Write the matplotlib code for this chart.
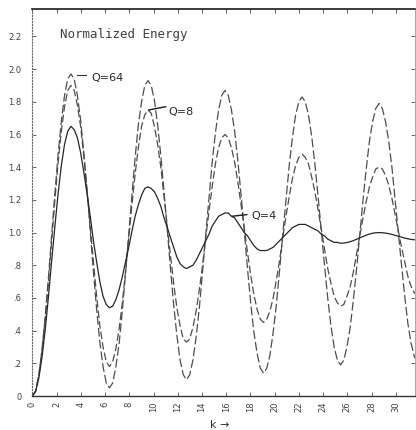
import numpy as np
import matplotlib
matplotlib.use("Agg")
import matplotlib.pyplot as plt

# -----------------------------
# Data
# -----------------------------
K_STEP = 0.265  # sample spacing along k (24 samples per oscillation)

q64 = [0.00, 0.03, 0.13, 0.29, 0.49, 0.73, 0.99, 1.24, 1.48, 1.68, 1.84, 1.94, 1.97,
       1.94, 1.84, 1.69, 1.49, 1.26, 1.01, 0.76, 0.53, 0.33, 0.18, 0.08, 0.05,
       0.08, 0.18, 0.32, 0.52, 0.75, 0.99, 1.23, 1.46, 1.66, 1.80, 1.90, 1.93,
       1.90, 1.81, 1.66, 1.47, 1.25, 1.02, 0.78, 0.56, 0.37, 0.22, 0.13, 0.10,
       0.13, 0.22, 0.36, 0.54, 0.76, 0.99, 1.21, 1.43, 1.61, 1.75, 1.84, 1.87,
       1.84, 1.75, 1.62, 1.44, 1.23, 1.01, 0.78, 0.57, 0.39, 0.26, 0.17, 0.14,
       0.17, 0.25, 0.39, 0.56, 0.77, 0.99, 1.20, 1.41, 1.58, 1.72, 1.80, 1.83,
       1.80, 1.72, 1.59, 1.42, 1.22, 1.01, 0.80, 0.60, 0.43, 0.30, 0.22, 0.19,
       0.22, 0.30, 0.42, 0.59, 0.78, 0.99, 1.20, 1.39, 1.56, 1.68, 1.76, 1.79,
       1.76, 1.68, 1.56, 1.40, 1.20, 1.00, 0.80, 0.61, 0.44, 0.32, 0.24, 0.21]

q8 = [0.00, 0.03, 0.13, 0.28, 0.48, 0.70, 0.95, 1.20, 1.43, 1.62, 1.77, 1.87, 1.90,
      1.87, 1.78, 1.65, 1.47, 1.26, 1.04, 0.82, 0.61, 0.43, 0.30, 0.21, 0.18,
      0.21, 0.29, 0.41, 0.57, 0.76, 0.97, 1.17, 1.36, 1.52, 1.65, 1.72, 1.75,
      1.73, 1.65, 1.54, 1.40, 1.22, 1.04, 0.86, 0.69, 0.54, 0.43, 0.35, 0.33,
      0.35, 0.42, 0.52, 0.65, 0.80, 0.97, 1.13, 1.28, 1.42, 1.52, 1.58, 1.60,
      1.58, 1.52, 1.43, 1.31, 1.17, 1.03, 0.88, 0.74, 0.62, 0.53, 0.47, 0.45,
      0.47, 0.52, 0.60, 0.71, 0.83, 0.97, 1.10, 1.22, 1.33, 1.41, 1.46, 1.48,
      1.46, 1.42, 1.34, 1.25, 1.14, 1.02, 0.90, 0.78, 0.69, 0.61, 0.57, 0.55,
      0.56, 0.61, 0.67, 0.76, 0.87, 0.98, 1.09, 1.19, 1.28, 1.34, 1.39, 1.40,
      1.39, 1.35, 1.29, 1.21, 1.11, 1.01, 0.91, 0.82, 0.73, 0.67, 0.63, 0.62]

q4 = [0.00, 0.03, 0.11, 0.24, 0.41, 0.61, 0.83, 1.04, 1.24, 1.41, 1.54, 1.62, 1.65,
      1.63, 1.58, 1.49, 1.37, 1.24, 1.10, 0.95, 0.82, 0.70, 0.61, 0.56, 0.54,
      0.55, 0.59, 0.65, 0.73, 0.82, 0.91, 1.01, 1.10, 1.17, 1.23, 1.27, 1.28,
      1.27, 1.25, 1.21, 1.16, 1.09, 1.03, 0.97, 0.91, 0.85, 0.81, 0.79, 0.78,
      0.79, 0.80, 0.83, 0.87, 0.91, 0.95, 0.99, 1.04, 1.07, 1.10, 1.11, 1.12,
      1.12, 1.10, 1.09, 1.06, 1.03, 1.00, 0.98, 0.95, 0.92, 0.90, 0.89, 0.89,
      0.89, 0.90, 0.91, 0.93, 0.95, 0.97, 0.99, 1.01, 1.03, 1.04, 1.05, 1.05,
      1.05, 1.04, 1.03, 1.02, 1.01, 0.99, 0.98, 0.96, 0.95, 0.94, 0.94, 0.935,
      0.936, 0.939, 0.944, 0.951, 0.959, 0.968, 0.976, 0.984, 0.991, 0.996, 0.999, 1.00,
      0.999, 0.997, 0.993, 0.989, 0.983, 0.978, 0.972, 0.966, 0.962, 0.958, 0.956, 0.955]

x_ticks = [0, 2, 4, 6, 8, 10, 12, 14, 16, 18, 20, 22, 24, 26, 28, 30]
y_ticks = [0, 0.2, 0.4, 0.6, 0.8, 1.0, 1.2, 1.4, 1.6, 1.8, 2.0, 2.2]
y_tick_labels = ["0", ".2", ".4", ".6", ".8", "1.0", "1.2", "1.4",
                 "1.6", "1.8", "2.0", "2.2"]

k = np.arange(len(q64)) * K_STEP

# -----------------------------
# Plot
# -----------------------------
fig = plt.figure(figsize=(4.16, 4.30), dpi=100)
ax = fig.add_axes([0.078, 0.079, 0.92, 0.899])

ax.plot(k, q64, color="0.3", lw=0.9, dashes=(7, 2.5))
ax.plot(k, q8, color="0.3", lw=0.9, dashes=(6, 2.5))
ax.plot(k, q4, color="0.15", lw=0.9)

ax.set_xlim(0, 31.6)
ax.set_ylim(0, 2.365)

ax.set_xticks(x_ticks)
ax.set_xticklabels([str(t) for t in x_ticks], rotation=90, fontsize=6,
                   color="0.25")
ax.set_yticks(y_ticks)
ax.set_yticklabels(y_tick_labels, fontsize=6, color="0.25")

ax.tick_params(axis="both", direction="in", length=3, width=0.6,
               top=True, right=True, color="0.3")
ax.tick_params(axis="y", pad=8)
ax.tick_params(axis="x", pad=4)

ax.spines["left"].set_linestyle(":")
ax.spines["left"].set_color("0.4")
ax.spines["left"].set_linewidth(0.8)
ax.spines["right"].set_color("0.6")
ax.spines["right"].set_linewidth(0.6)
ax.spines["top"].set_linewidth(1.2)
ax.spines["bottom"].set_linewidth(1.0)
ax.spines["top"].set_color("0.1")
ax.spines["bottom"].set_color("0.2")

# Labels inside the plot
ax.text(2.25, 2.21, "Normalized Energy", fontsize=9,
        family="DejaVu Sans Mono", color="0.25", va="center")

ax.plot([3.7, 4.4], [1.965, 1.965], color="0.2", lw=0.8)
ax.text(4.9, 1.945, "Q=64", fontsize=8, color="0.15", va="center")

ax.plot([9.6, 11.0], [1.75, 1.77], color="0.1", lw=1.0)
ax.text(11.2, 1.74, "Q=8", fontsize=8, color="0.15", va="center")

ax.plot([16.5, 17.7], [1.10, 1.11], color="0.1", lw=1.0)
ax.text(18.1, 1.10, "Q=4", fontsize=8, color="0.15", va="center")

fig.text(220 / 416, 1 - 425 / 430, "k →", fontsize=8, color="0.2",
         ha="center", va="center")

plt.savefig("out.png", dpi=100)
